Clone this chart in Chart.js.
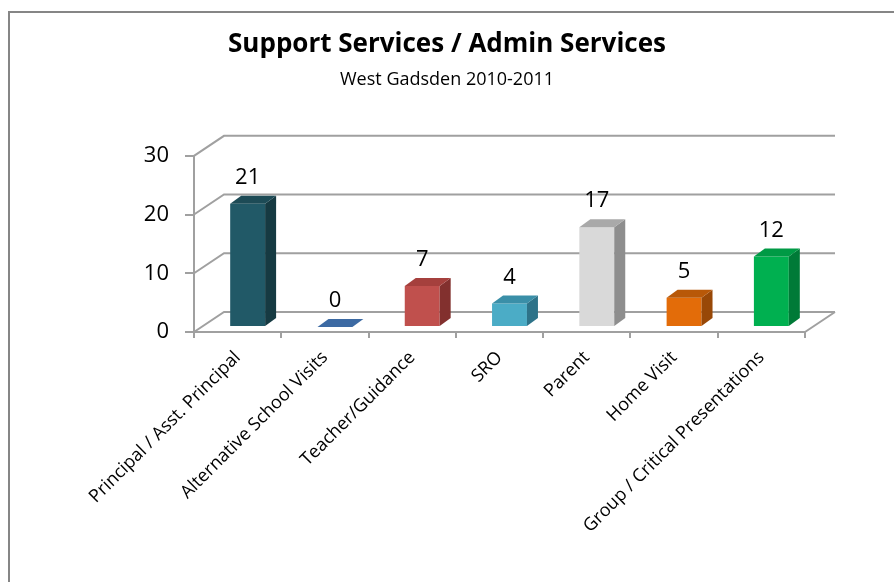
<!DOCTYPE html>
<html>
<head>
<meta charset="utf-8">
<script src="https://cdn.jsdelivr.net/npm/chart.js@4.4.1/dist/chart.umd.min.js"></script>
<style>
  html, body { margin: 0; padding: 0; background: #fff; }
</style>
</head>
<body>
<canvas id="myChart" width="894" height="582"></canvas>
<script>
// Data
const categories = [
  'Principal / Asst. Principal',
  'Alternative School Visits',
  'Teacher/Guidance',
  'SRO',
  'Parent',
  'Home Visit',
  'Group / Critical Presentations'
];
const counts = [21, 0, 7, 4, 17, 5, 12];
const yTicks = [0, 10, 20, 30];

// Bar faces: front, top, side
const frontColors = ['#215967', '#4F81BD', '#C0504D', '#4BACC6', '#D9D9D9', '#E36C09', '#00B050'];
const topColors   = ['#1D4B56', '#3C6AA3', '#A5403D', '#3A8FA8', '#A9A9A9', '#B85808', '#009A45'];
const sideColors  = ['#163A42', '#2F5480', '#82302E', '#2E7389', '#8E8E8E', '#984807', '#007A37'];

// 3D look
const wallDepth = { dx: 30, dy: -20 };  // back wall, measured from the front axis plane
const barShift = { dx: 10, dy: -5 };    // row of bars sits a bit into the floor
const barDepth = { dx: 11, dy: -8 };
const gridColor = '#A0A0A0';
const font = '"Open Sans", "Noto Sans", sans-serif';

function poly(ctx, pts, color) {
  ctx.beginPath();
  ctx.moveTo(pts[0][0], pts[0][1]);
  for (let i = 1; i < pts.length; i++) ctx.lineTo(pts[i][0], pts[i][1]);
  ctx.closePath();
  ctx.fillStyle = color;
  ctx.fill();
}

const threeD = {
  id: 'threeD',
  beforeDraw(chart) {
    const { ctx, width, height } = chart;
    ctx.save();
    ctx.fillStyle = '#fff';
    ctx.fillRect(0, 0, width, height);
    ctx.strokeStyle = '#868686';
    ctx.lineWidth = 2;
    ctx.strokeRect(9, 12, width + 20, height + 20);
    ctx.restore();
  },
  beforeDatasetsDraw(chart) {
    const { ctx, chartArea: a, scales: { y } } = chart;
    ctx.save();
    ctx.strokeStyle = gridColor;
    ctx.lineWidth = 2;
    ctx.beginPath();
    // side wall diagonals + back wall gridlines
    y.ticks.forEach(t => {
      const py = y.getPixelForValue(t.value);
      ctx.moveTo(a.left, py);
      ctx.lineTo(a.left + wallDepth.dx, py + wallDepth.dy);
      ctx.lineTo(a.right + wallDepth.dx, py + wallDepth.dy);
    });
    // right edge of the floor
    const p0 = y.getPixelForValue(0);
    ctx.moveTo(a.right, p0);
    ctx.lineTo(a.right + wallDepth.dx, p0 + wallDepth.dy);
    ctx.stroke();
    ctx.restore();
  },
  beforeDatasetDraw(chart) {
    chart.ctx.save();
    chart.ctx.translate(barShift.dx, barShift.dy);
  },
  afterDatasetDraw(chart) {
    chart.ctx.restore();
  },
  afterDatasetsDraw(chart) {
    const { ctx } = chart;
    const meta = chart.getDatasetMeta(0);
    ctx.save();
    ctx.translate(barShift.dx, barShift.dy);
    meta.data.forEach((bar, i) => {
      const { x, y, base, width } = bar.getProps(['x', 'y', 'base', 'width'], true);
      const l = x - width / 2, r = x + width / 2;
      const { dx, dy } = barDepth;
      poly(ctx, [[r, y], [r + dx, y + dy], [r + dx, base + dy], [r, base]], sideColors[i]);
      poly(ctx, [[l, y], [r, y], [r + dx, y + dy], [l + dx, y + dy]], topColors[i]);

      ctx.fillStyle = '#000';
      ctx.font = '22px ' + font;
      ctx.textAlign = 'center';
      ctx.textBaseline = 'alphabetic';
      ctx.fillText(String(counts[i]), x, y - 20);
    });
    ctx.restore();
  }
};

const ctx = document.getElementById('myChart').getContext('2d');

const myChart = new Chart(ctx, {
  type: 'bar',
  data: {
    labels: categories,
    datasets: [{
      data: counts,
      backgroundColor: frontColors,
      borderWidth: 0,
      barPercentage: 0.4,
      categoryPercentage: 1
    }]
  },
  options: {
    responsive: false,
    animation: false,
    layout: { padding: 0 },
    plugins: {
      legend: { display: false },
      tooltip: { enabled: false },
      title: {
        display: true,
        text: 'Support Services / Admin Services',
        color: '#000',
        font: { family: font, size: 26, weight: 'bold' },
        padding: { top: 29, bottom: 9 }
      },
      subtitle: {
        display: true,
        text: 'West Gadsden 2010-2011',
        color: '#000',
        font: { family: font, size: 18 },
        padding: { top: 0, bottom: 65 }
      }
    },
    scales: {
      x: {
        afterFit: s => { s.height = 250; },
        grid: {
          display: true,
          drawOnChartArea: false,
          drawTicks: true,
          tickLength: 6,
          color: gridColor,
          lineWidth: 2
        },
        border: { display: true, color: gridColor, width: 2 },
        ticks: {
          autoSkip: false,
          minRotation: 45,
          maxRotation: 45,
          padding: 9,
          color: '#000',
          font: { family: font, size: 18 }
        }
      },
      y: {
        min: 0,
        max: 30,
        afterFit: s => { s.width = 194; },
        afterBuildTicks: s => { s.ticks = yTicks.map(v => ({ value: v })); },
        grid: {
          display: true,
          drawOnChartArea: false,
          drawTicks: true,
          tickLength: 9,
          color: gridColor,
          lineWidth: 2
        },
        border: { display: true, color: gridColor, width: 2 },
        ticks: {
          padding: 16,
          color: '#000',
          font: { family: font, size: 22 }
        }
      },
      // empty right-hand strip that keeps the plot clear of the frame edge
      pad: {
        type: 'linear',
        position: 'right',
        afterFit: s => { s.width = 89; },
        grid: { display: false },
        border: { display: false },
        ticks: { display: false }
      }
    }
  },
  plugins: [threeD]
});
</script>
</body>
</html>
